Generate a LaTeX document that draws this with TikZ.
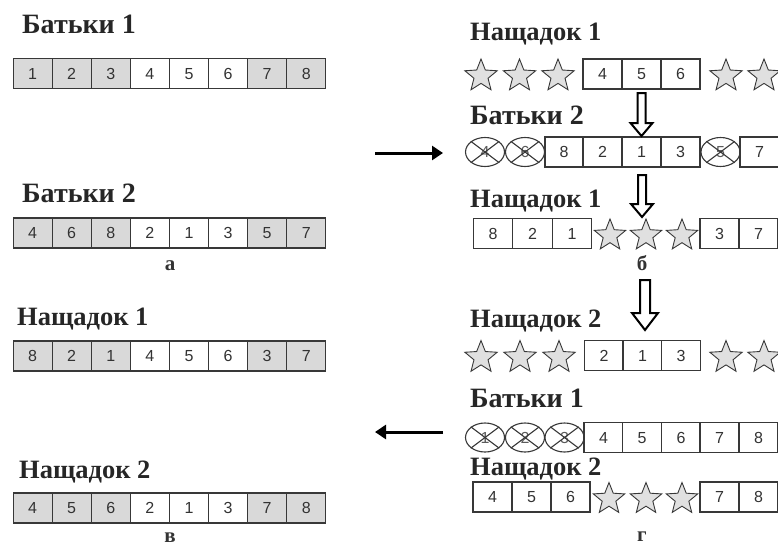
\documentclass[tikz,border=0pt]{standalone}
\usepackage{fontspec}
\setmainfont{Liberation Serif}
\newfontfamily\cellfnt{Liberation Sans}
\usetikzlibrary{shapes.geometric,arrows.meta}
\definecolor{cellgray}{HTML}{D9D9D9}
\definecolor{bordc}{HTML}{383838}
\definecolor{numc}{HTML}{333333}
\definecolor{starc}{HTML}{E0E0E0}
\tikzset{
 cellbase/.style={draw=bordc, line width=1.1pt, minimum width=39pt, minimum height=30pt, inner sep=0pt, text height=11.5pt, text depth=0pt, font=\cellfnt\fontsize{16}{16}\selectfont, text=numc},
 cg/.style={cellbase, fill=cellgray},
 cw/.style={cellbase, fill=white},
 starnode/.style={star, star points=5, star point ratio=2.3, draw=bordc, line width=0.9pt, fill=starc, minimum size=34pt, inner sep=0pt},
 crossed/.style={ellipse, draw=bordc, line width=1.1pt, minimum width=39pt, minimum height=29pt, inner sep=0pt, text height=11.5pt, text depth=0pt, font=\cellfnt\fontsize{16}{16}\selectfont, text=numc!80},
 ttl/.style={anchor=base west, inner sep=0pt, font=\bfseries\fontsize{28}{28}\selectfont, text=black!85},
 ttlN/.style={ttl, font=\bfseries\fontsize{26.5}{26.5}\selectfont},
 lbl/.style={inner sep=0pt, font=\bfseries\fontsize{21}{21}\selectfont, text=black!80},
 harrow/.style={line width=3pt, -{Triangle[length=11pt,width=14pt]}},
 blockarrow/.style={draw=black, fill=white, line width=2pt, line join=miter}
}
\newcommand\crossit[1]{\draw[bordc, line width=1.1pt] (#1.north west) -- (#1.south east) (#1.north east) -- (#1.south west);}
\newcommand\blockarr[6]{\draw[blockarrow] ({#1-#4},#2) -- ({#1+#4},#2) -- ({#1+#4},{#3-#6}) -- ({#1+#5},{#3-#6}) -- (#1,#3) -- ({#1-#5},{#3-#6}) -- ({#1-#4},{#3-#6}) -- cycle;}
\begin{document}
\begin{tikzpicture}[x=1pt,y=-1pt]
\useasboundingbox[fill=white] (0,0) rectangle (778,546);
% ---------- left panel ----------
\node[ttl] (tA) at (22,33) {Батьки 1};
\foreach \s/\v [count=\i] in {cg/1,cg/2,cg/3,cw/4,cw/5,cw/6,cg/7,cg/8}
  \node[\s] (a\i) at ({13+39.1*(\i-0.5)},73.5) {\v};
\node[ttl] (tB) at (22,202) {Батьки 2};
\foreach \s/\v [count=\i] in {cg/4,cg/6,cg/8,cw/2,cw/1,cw/3,cg/5,cg/7}
  \node[\s] (b\i) at ({13+39.1*(\i-0.5)},233) {\v};
\node[lbl] (la) at (170,266) {а};
\node[ttlN] (tC) at (17,325) {Нащадок 1};
\foreach \s/\v [count=\i] in {cg/8,cg/2,cg/1,cw/4,cw/5,cw/6,cg/3,cg/7}
  \node[\s] (c\i) at ({13+39.1*(\i-0.5)},356) {\v};
\node[ttlN] (tD) at (19,478) {Нащадок 2};
\foreach \s/\v [count=\i] in {cg/4,cg/5,cg/6,cw/2,cw/1,cw/3,cg/7,cg/8}
  \node[\s] (d\i) at ({13+39.1*(\i-0.5)},508) {\v};
\node[lbl] (lv) at (170,538) {в};
% ---------- right panel ----------
% row 1: Нащадок 1
\node[ttlN] (tE) at (470,40) {Нащадок 1};
\node[starnode] (e1) at (481,76) {};
\node[starnode] (e2) at (519.5,76) {};
\node[starnode] (e3) at (558,76) {};
\node[cw] (e4) at (602.5,74) {4};
\node[cw] (e5) at (641.5,74) {5};
\node[cw] (e6) at (680.5,74) {6};
\node[starnode] (e7) at (726,76) {};
\node[starnode] (e8) at (764,76) {};
% row 2: Батьки 2
\node[ttl] (tF) at (470,124) {Батьки 2};
\node[crossed] (f1) at (485,152) {4}; \crossit{f1}
\node[crossed] (f2) at (525,152) {6}; \crossit{f2}
\node[cw, minimum width=38pt] (f3) at (564,152) {8};
\node[cw] (f4) at (602.5,152) {2};
\node[cw] (f5) at (641.5,152) {1};
\node[cw] (f6) at (680.5,152) {3};
\node[crossed] (f7) at (720.5,152) {5}; \crossit{f7}
\node[cw] (f8) at (759.5,152) {7};
% row 3: Нащадок 1
\node[ttlN] (tG) at (470,207) {Нащадок 1};
\node[cw, minimum width=39.5pt] (g1) at (493,233.5) {8};
\node[cw, minimum width=39.5pt] (g2) at (532.5,233.5) {2};
\node[cw, minimum width=39.5pt] (g3) at (572,233.5) {1};
\node[starnode, minimum size=33pt] (g4) at (610,235.5) {};
\node[starnode, minimum size=33pt] (g5) at (646,235.5) {};
\node[starnode, minimum size=33pt] (g6) at (682,235.5) {};
\node[cw] (g7) at (719.5,233.5) {3};
\node[cw] (g8) at (758.5,233.5) {7};
\node[lbl] (lb) at (642,263) {б};
% row 4: Нащадок 2
\node[ttlN] (tH) at (470,327) {Нащадок 2};
\node[starnode] (h1) at (481,357.5) {};
\node[starnode] (h2) at (520,357.5) {};
\node[starnode] (h3) at (559,357.5) {};
\node[cw] (h4) at (604,355.5) {2};
\node[cw] (h5) at (642.5,355.5) {1};
\node[cw] (h6) at (681,355.5) {3};
\node[starnode] (h7) at (726,357.5) {};
\node[starnode] (h8) at (764,357.5) {};
% row 5: Батьки 1
\node[ttl] (tI) at (470,407) {Батьки 1};
\node[crossed] (i1) at (485,437.5) {1}; \crossit{i1}
\node[crossed] (i2) at (525,437.5) {2}; \crossit{i2}
\node[crossed] (i3) at (564.5,437.5) {3}; \crossit{i3}
\node[cw] (i4) at (603.5,437.5) {4};
\node[cw] (i5) at (642,437.5) {5};
\node[cw] (i6) at (681,437.5) {6};
\node[cw] (i7) at (719.5,437.5) {7};
\node[cw] (i8) at (758.5,437.5) {8};
% row 6: Нащадок 2
\node[ttlN] (tJ) at (470,475) {Нащадок 2};
\node[cw] (j1) at (492.5,497) {4};
\node[cw] (j2) at (531.5,497) {5};
\node[cw] (j3) at (570.5,497) {6};
\node[starnode, minimum size=33pt] (j4) at (609,499) {};
\node[starnode, minimum size=33pt] (j5) at (646,499) {};
\node[starnode, minimum size=33pt] (j6) at (682,499) {};
\node[cw] (j7) at (719.5,497) {7};
\node[cw] (j8) at (758.5,497) {8};
\node[lbl] (lg) at (642,537) {г};
% ---------- arrows ----------
\coordinate (r1s) at (375,153);
\coordinate (r1e) at (443,153);
\draw[harrow] (r1s) -- (r1e);
\coordinate (l1s) at (443,432);
\coordinate (l1e) at (375,432);
\draw[harrow] (l1s) -- (l1e);
\blockarr{641.5}{93}{136}{4}{11}{13}
\blockarr{642}{175}{217}{4}{11}{13}
\blockarr{645}{280}{330}{5}{13}{17}
\end{tikzpicture}
\end{document}
